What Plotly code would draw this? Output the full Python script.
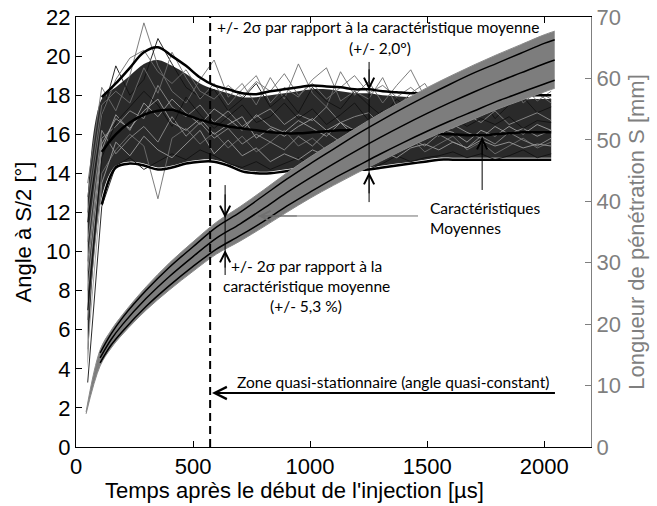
import plotly.graph_objects as go

# ---------------- data ----------------
# angle curves (left axis, degrees)
t_angle = [50, 110, 170, 230, 290, 350, 410, 470, 530, 590, 650, 710, 770, 830, 890, 950,
           1010, 1070, 1130, 1190, 1250, 1310, 1370, 1430, 1490, 1550, 1610, 1670, 1730,
           1790, 1850, 1910, 1970, 2030]

angle_mean = [None, 15.1, 16.0, 16.6, 17.0, 17.2, 17.25, 17.0, 16.75, 16.55, 16.4, 16.3, 16.2,
              16.1, 16.05, 16.05, 16.1, 16.15, 16.2, 16.2, 16.2, 16.15, 16.1, 16.1, 16.05,
              16.0, 16.0, 15.95, 15.95, 16.0, 16.05, 16.1, 16.1, 16.1]
angle_up = [None, 17.9, 18.6, 19.4, 20.2, 20.45, 20.0, 19.5, 18.9, 18.5, 18.3, 18.1, 18.05,
            18.2, 18.3, 18.4, 18.5, 18.45, 18.4, 18.3, 18.3, 18.2, 18.15, 18.1, 18.1, 18.05,
            18.0, 18.0, 18.0, 18.05, 18.05, 18.0, 18.0, 18.0]
angle_lo = [None, 12.4, 14.3, 14.5, 14.4, 14.2, 14.3, 14.5, 14.6, 14.6, 14.4, 14.1, 14.0,
            14.0, 14.1, 14.2, 14.3, 14.3, 14.3, 14.2, 14.2, 14.3, 14.4, 14.5, 14.6, 14.7,
            14.7, 14.7, 14.7, 14.7, 14.7, 14.7, 14.7, 14.7]

core_hi = [12.8, 17.8, 18.4, 19.0, 19.6, 19.8, 19.5, 19.1, 18.6, 18.3, 18.1, 17.9, 17.9,
           18.0, 18.1, 18.2, 18.3, 18.3, 18.2, 18.1, 18.1, 18.0, 17.95, 17.9, 17.9, 17.85,
           17.8, 17.8, 17.8, 17.85, 17.85, 17.8, 17.8, 17.8]
core_lo = [4.0, 12.8, 14.4, 14.6, 14.5, 14.3, 14.4, 14.6, 14.7, 14.7, 14.5, 14.2, 14.1,
           14.1, 14.2, 14.3, 14.4, 14.4, 14.4, 14.3, 14.3, 14.4, 14.5, 14.6, 14.7, 14.8,
           14.8, 14.8, 14.8, 14.8, 14.8, 14.8, 14.8, 14.8]

shot_01 = [13.5, 18.4, 17.2, 19.0, 21.7, 19.5, 18.2, 17.6, 18.8, 19.8, 17.9, 18.6, 17.5, 18.9, 17.8, 19.6, 18.1, 17.4, 19.2, 18.0, 18.7, 17.6, 18.5, 19.3, 17.9, 18.4, 17.5, 18.8, 17.7, 18.3, 19.0, 17.6, 18.2, 17.8]
shot_02 = [11.5, 16.9, 19.5, 18.0, 18.8, 20.9, 19.6, 18.4, 17.9, 18.3, 17.2, 17.8, 18.6, 17.4, 18.0, 17.1, 18.4, 17.7, 17.3, 18.2, 17.5, 16.9, 17.8, 17.2, 18.1, 17.0, 17.6, 17.2, 17.9, 16.8, 17.5, 17.9, 17.1, 17.4]
shot_03 = [9.5, 15.8, 16.4, 17.2, 16.8, 18.5, 17.4, 16.9, 17.5, 16.6, 17.2, 16.4, 16.9, 17.3, 16.5, 17.0, 16.7, 17.4, 16.6, 16.9, 17.1, 16.4, 16.8, 17.2, 16.5, 16.9, 16.3, 17.0, 16.6, 17.2, 16.5, 16.8, 17.1, 16.7]
shot_04 = [6.5, 14.0, 15.2, 16.0, 15.4, 12.7, 15.8, 16.3, 15.5, 16.1, 15.3, 15.9, 15.1, 15.6, 16.2, 15.4, 15.8, 15.2, 15.7, 15.0, 15.6, 16.1, 15.3, 15.8, 15.1, 15.5, 15.9, 15.2, 15.6, 15.0, 15.4, 15.8, 15.3, 15.6]
shot_05 = [3.3, 12.3, 14.4, 14.8, 14.2, 14.6, 15.0, 14.7, 15.2, 14.9, 14.5, 14.3, 14.6, 14.2, 14.5, 14.8, 14.4, 14.7, 14.3, 14.6, 14.2, 14.5, 14.9, 14.6, 14.8, 14.9, 15.1, 14.8, 15.0, 14.7, 14.9, 15.2, 14.8, 15.0]
shot_06 = [12.8, 17.5, 18.2, 17.6, 19.4, 18.1, 20.2, 18.9, 17.8, 18.6, 17.5, 18.3, 19.0, 17.6, 18.4, 17.9, 18.8, 19.4, 17.7, 18.2, 17.8, 18.9, 17.4, 18.1, 18.6, 17.5, 18.0, 18.9, 17.6, 18.3, 17.8, 18.5, 17.7, 18.2]
shot_07 = [8.0, 15.2, 17.0, 16.2, 17.6, 16.9, 17.8, 17.1, 16.5, 17.3, 16.8, 16.2, 17.0, 16.4, 16.1, 16.7, 16.3, 15.9, 16.6, 16.2, 15.8, 16.4, 16.0, 15.7, 16.3, 15.9, 16.5, 16.1, 15.8, 16.4, 16.0, 16.3, 15.9, 16.2]
shot_08 = [10.5, 16.2, 15.0, 15.8, 16.4, 15.6, 16.9, 15.9, 16.6, 15.8, 16.3, 15.5, 16.0, 15.6, 15.2, 15.9, 15.4, 16.1, 15.6, 15.3, 15.9, 15.5, 15.2, 15.8, 15.4, 16.0, 15.6, 15.3, 15.9, 15.5, 16.1, 15.7, 15.4, 15.8]
shot_09 = [7.0, 14.8, 16.6, 17.4, 18.2, 17.5, 16.4, 17.9, 17.0, 16.3, 16.9, 17.5, 16.6, 16.9, 17.6, 16.8, 17.3, 16.5, 17.0, 17.6, 16.7, 17.2, 16.4, 16.8, 17.1, 16.6, 16.9, 16.4, 16.8, 16.5, 16.9, 16.3, 16.7, 16.6]
shot_10 = [5.0, 13.5, 15.6, 14.9, 15.9, 15.2, 14.8, 15.5, 16.2, 15.0, 15.7, 14.9, 15.3, 14.6, 15.0, 14.7, 15.2, 14.9, 15.4, 15.0, 14.7, 15.1, 14.8, 15.3, 15.5, 15.2, 15.6, 15.3, 15.7, 15.4, 15.6, 15.3, 15.5, 15.4]
shot_11 = [12.0, 17.0, 18.8, 19.9, 20.3, 19.2, 18.6, 19.3, 18.2, 17.8, 18.5, 17.9, 18.7, 18.2, 19.1, 18.0, 18.6, 17.8, 18.4, 19.0, 18.1, 18.5, 17.9, 18.4, 17.8, 18.3, 18.6, 17.9, 18.2, 17.7, 18.3, 17.9, 18.1, 17.6]
shot_12 = [9.0, 15.5, 16.8, 16.3, 17.2, 17.8, 16.6, 16.2, 16.8, 16.0, 16.5, 16.9, 15.8, 16.3, 15.9, 16.4, 16.8, 16.2, 16.6, 15.9, 16.4, 16.6, 16.1, 16.5, 15.8, 16.3, 16.1, 15.6, 16.2, 15.9, 16.4, 16.0, 16.5, 16.2]
shots = [shot_01, shot_02, shot_03, shot_04, shot_05, shot_06,
         shot_07, shot_08, shot_09, shot_10, shot_11, shot_12]
shot_colors = ["#6e6e6e", "#111111", "#8c8c8c", "#6e6e6e", "#111111", "#6e6e6e",
               "#9a9a9a", "#8c8c8c", "#111111", "#9a9a9a", "#6e6e6e", "#a0a0a0"]

# penetration curves (right axis, mm)
t_pen = [43, 103, 150, 200, 300, 400, 500, 600, 700, 800, 900, 1000, 1100, 1200, 1300,
         1400, 1500, 1600, 1700, 1800, 1900, 2000, 2045]
pen_mean = [None, 14.5, 17.5, 20.0, 24.2, 27.8, 31.0, 34.0, 36.3, 38.8, 41.4, 43.8, 46.1,
            48.3, 50.4, 52.4, 54.3, 56.1, 57.8, 59.4, 60.9, 62.4, 63.0]
pen_up = [None, 15.3, 18.4, 21.1, 25.5, 29.3, 32.6, 35.8, 38.2, 40.9, 43.6, 46.1, 48.5,
          50.9, 53.1, 55.2, 57.2, 59.1, 60.9, 62.5, 64.1, 65.7, 66.3]
pen_lo = [None, 13.7, 16.6, 18.9, 22.9, 26.3, 29.4, 32.2, 34.4, 36.7, 39.2, 41.5, 43.7,
          45.7, 47.7, 49.6, 51.4, 53.1, 54.7, 56.3, 57.7, 59.1, 59.7]
pen_band_up = [5.7, 15.8, 19.0, 21.6, 26.1, 30.0, 33.4, 36.6, 39.1, 41.8, 44.6, 47.2, 49.6,
               52.0, 54.3, 56.4, 58.5, 60.4, 62.2, 63.9, 65.5, 67.1, 67.7]
pen_band_lo = [5.4, 13.2, 16.1, 18.4, 22.3, 25.6, 28.6, 31.4, 33.5, 35.8, 38.2, 40.5, 42.6,
               44.6, 46.5, 48.4, 50.2, 51.8, 53.4, 55.0, 56.4, 57.8, 58.4]

x_ticks = [0, 500, 1000, 1500, 2000]
t_stationary = 573

# ---------------- figure ----------------
fig = go.Figure()

# dense core of angle curves
fig.add_trace(go.Scatter(x=t_angle, y=core_lo, mode="lines", line=dict(width=0),
                         line_shape="spline", showlegend=False, hoverinfo="skip"))
fig.add_trace(go.Scatter(x=t_angle, y=core_hi, mode="lines", line=dict(width=0),
                         line_shape="spline", fill="tonexty", fillcolor="rgba(12,12,12,0.88)",
                         showlegend=False, hoverinfo="skip"))

for s, c in zip(shots, shot_colors):
    fig.add_trace(go.Scatter(x=t_angle, y=s, mode="lines", line=dict(color=c, width=0.9),
                             showlegend=False))

for arr in (angle_up, angle_lo, angle_mean):
    fig.add_trace(go.Scatter(x=t_angle, y=arr, mode="lines", line=dict(color="black", width=2.5),
                             line_shape="spline", showlegend=False))

# penetration band
fig.add_trace(go.Scatter(x=t_pen, y=pen_band_lo, mode="lines", yaxis="y2",
                         line=dict(color="#8a8a8a", width=1), line_shape="spline",
                         showlegend=False))
fig.add_trace(go.Scatter(x=t_pen, y=pen_band_up, mode="lines", yaxis="y2",
                         line=dict(color="#8a8a8a", width=1), line_shape="spline",
                         fill="tonexty", fillcolor="#7d7d7d", showlegend=False))
for arr in (pen_up, pen_lo, pen_mean):
    fig.add_trace(go.Scatter(x=t_pen, y=arr, mode="lines", yaxis="y2",
                             line=dict(color="black", width=1.5), line_shape="spline",
                             showlegend=False))

# dashed line at start of quasi-stationary zone
fig.add_shape(type="line", x0=t_stationary, x1=t_stationary, y0=0, y1=22, xref="x", yref="y",
              line=dict(color="black", width=2, dash="8px,5px"))

ann_font = dict(family="Lato, Carlito, sans-serif", size=15.5, color="black")

def seg(x0, y0, x1, y1, color="black", width=1):
    fig.add_shape(type="line", x0=x0, y0=y0, x1=x1, y1=y1, xref="x", yref="y",
                  line=dict(color=color, width=width))

def head(x, y, ax, ay, color="black", width=1, size=2.0):
    fig.add_annotation(x=x, y=y, ax=ax, ay=ay, xref="x", yref="y", axref="x", ayref="y",
                       text="", showarrow=True, arrowhead=5, arrowsize=size,
                       arrowwidth=width, arrowcolor=color)

def label(x, y, text, xanchor="left"):
    fig.add_annotation(x=x, y=y, xref="x", yref="y", text=text, showarrow=False,
                       xanchor=xanchor, yanchor="middle", font=ann_font)

# angle +/- 2 sigma
seg(1252, 19.70, 1252, 12.53)
head(1252, 18.26, 1252, 19.4)
head(1252, 14.07, 1252, 12.9)
label(594, 21.5, "+/- 2σ par rapport à la caractéristique moyenne")
label(1299, 20.4, "(+/- 2,0°)", xanchor="center")

# penetration +/- 2 sigma
seg(637, 13.40, 637, 8.80)
head(637, 11.72, 637, 13.0)
head(637, 10.08, 637, 9.1)
label(983, 9.26, "+/- 2σ par rapport à la", xanchor="center")
label(983, 8.24, "caractéristique moyenne", xanchor="center")
label(983, 7.21, "(+/- 5,3 %)", xanchor="center")

# mean characteristics
seg(1461, 11.82, 778, 11.82, color="#707070")
head(778, 11.82, 950, 11.82, color="#707070")
seg(1735, 13.15, 1735, 15.86)
head(1735, 15.86, 1735, 14.9)
label(1504, 12.23, "Caractéristiques")
label(1504, 11.20, "Moyennes")

# quasi-stationary zone
seg(2046, 2.76, 590, 2.76, width=2)
head(581, 2.76, 760, 2.76, width=2, size=1.2)
label(679, 3.33, "Zone quasi-stationnaire (angle quasi-constant)")

# x title
fig.add_annotation(x=0.425, y=-0.102, xref="paper", yref="paper",
                   text="Temps après le début de l'injection [µs]", showarrow=False,
                   xanchor="center", yanchor="middle",
                   font=dict(family="Liberation Sans, Arial, sans-serif", size=22, color="black"))

axis_font = dict(family="Liberation Sans, Arial, sans-serif", size=22, color="black")
gray = "#7f7f7f"

fig.update_layout(
    width=657, height=506,
    margin=dict(l=76, r=66, t=17, b=59, autoexpand=False),
    paper_bgcolor="white", plot_bgcolor="white",
    showlegend=False,
    font=axis_font,
    xaxis=dict(range=[0, 2200], tickvals=x_ticks, ticks="inside", ticklen=6,
               tickcolor="black", showline=True, linecolor="black", linewidth=1,
               mirror="ticks", showgrid=False, zeroline=False, tickfont=axis_font,
               automargin=False, ticklabeloverflow="allow"),
    yaxis=dict(range=[0, 22], dtick=2, ticks="inside", ticklen=6, tickcolor="black",
               showline=True, linecolor="black", linewidth=1, showgrid=False,
               zeroline=False, tickfont=axis_font, automargin=False,
               ticklabeloverflow="allow",
               title=dict(text="Angle à S/2 [°]", font=axis_font, standoff=8)),
    yaxis2=dict(range=[0, 70], dtick=10, overlaying="y", side="right", ticks="inside",
                ticklen=6, tickcolor=gray, showline=True, linecolor=gray, linewidth=1,
                showgrid=False, zeroline=False, automargin=False,
                ticklabeloverflow="allow",
                tickfont=dict(family="Liberation Sans, Arial, sans-serif", size=22, color=gray),
                title=dict(text="Longueur de pénétration S [mm]",
                           font=dict(family="Liberation Sans, Arial, sans-serif", size=22,
                                     color=gray), standoff=8)),
)

fig.write_html("out.html", config={"displayModeBar": False},
               post_script="document.body.style.margin='0';document.body.style.overflow='hidden';")
